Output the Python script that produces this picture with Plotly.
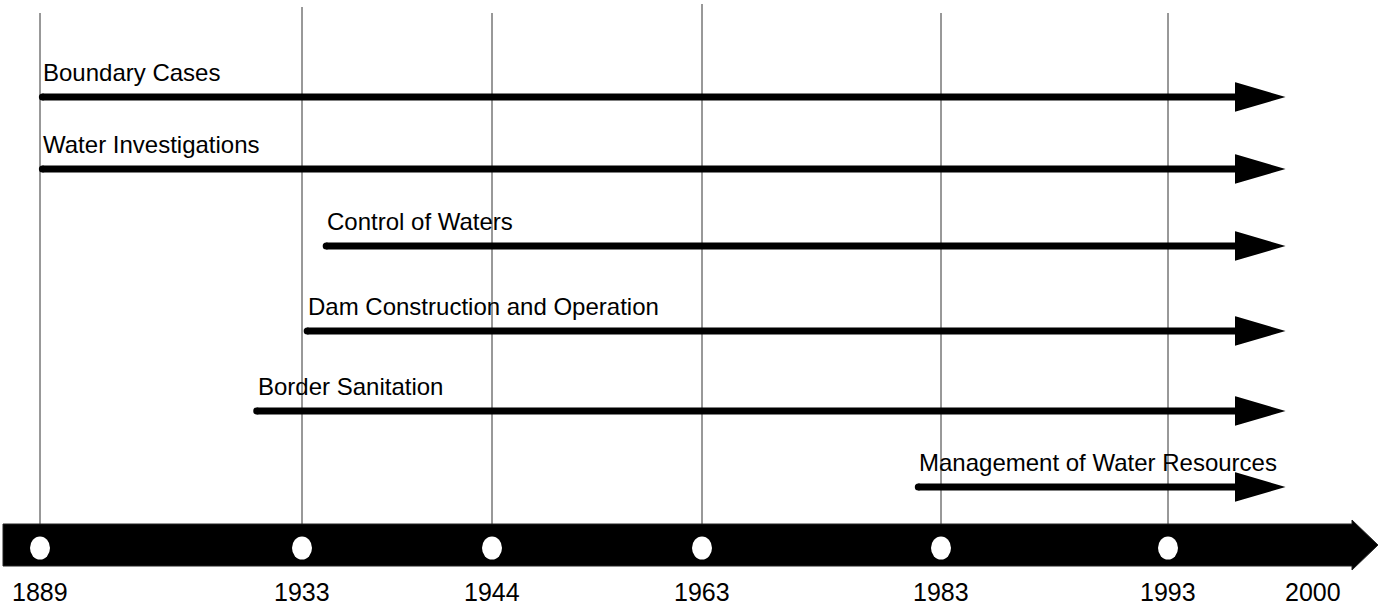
import numpy as np
import plotly.graph_objects as go

# ---------------- data ----------------
year_labels = ["1889", "1933", "1944", "1963", "1983", "1993", "2000"]
milestone_years = [1889, 1933, 1944, 1963, 1983, 1993]
program_names = [
    "Boundary Cases",
    "Water Investigations",
    "Control of Waters",
    "Dam Construction and Operation",
    "Border Sanitation",
    "Management of Water Resources",
]
program_start = [1889.4, 1889.4, 1934.4, 1933.3, 1925.4, 1981.1]
program_end = [2000, 2000, 2000, 2000, 2000, 2000]

# ---------------- layout / scale (schematic, non-linear time axis) ----------------
W, H = 1379, 610
AXIS_YEARS = [1889, 1933, 1944, 1963, 1983, 1993, 2000]
AXIS_PX = [40, 302, 492, 702, 941, 1168, 1313]
ROW_Y = [97, 169, 246, 331, 411, 487]
GUIDE_TOP = [13, 7, 13, 4, 13, 13]
BAR_Y0, BAR_Y1, BAR_X0, BAR_XH, BAR_TIP = 524, 566, 3, 1352, 1378
HEAD_HALF_BAR = 25
DOT_Y, DOT_RX, DOT_RY = 548, 10, 11.5
LINE_W = 7
HEAD_LEN, HEAD_HALF, TIP_GAP = 46, 13.5, 31
LABEL_GAP = 25
LABEL_FONT = 24
YEAR_FONT = 25
YEAR_Y = 592
FONT = "Liberation Sans, Arial, sans-serif"


def xs(year):
    return float(np.interp(year, AXIS_YEARS, AXIS_PX))


fig = go.Figure()
shapes = []
annotations = []

# vertical guide lines
for yr, top in zip(milestone_years, GUIDE_TOP):
    x = xs(yr)
    shapes.append(dict(type="line", x0=x, x1=x, y0=top, y1=DOT_Y, xref="x", yref="y",
                       line=dict(color="#333333", width=1), layer="below"))

# main timeline bar with arrow head
bar_mid = (BAR_Y0 + BAR_Y1) / 2
path = (f"M {BAR_X0},{BAR_Y0} L {BAR_XH},{BAR_Y0} L {BAR_XH},{bar_mid - HEAD_HALF_BAR} "
        f"L {BAR_TIP},{bar_mid} L {BAR_XH},{bar_mid + HEAD_HALF_BAR} L {BAR_XH},{BAR_Y1} "
        f"L {BAR_X0},{BAR_Y1} Z")
shapes.append(dict(type="path", path=path, xref="x", yref="y", fillcolor="black",
                   line=dict(color="#222", width=1)))

# milestone dots
for yr in milestone_years:
    x = xs(yr)
    shapes.append(dict(type="circle", x0=x - DOT_RX, x1=x + DOT_RX, y0=DOT_Y - DOT_RY,
                       y1=DOT_Y + DOT_RY, xref="x", yref="y", fillcolor="white",
                       line=dict(color="white", width=0)))

# year labels
for yr_lab in year_labels:
    annotations.append(dict(x=xs(int(yr_lab)), y=YEAR_Y, xref="x", yref="y", text=yr_lab,
                            showarrow=False, xanchor="center", yanchor="middle",
                            font=dict(family=FONT, size=YEAR_FONT, color="black")))

# program arrows
for name, s, e, y in zip(program_names, program_start, program_end, ROW_Y):
    x0 = xs(s)
    tip = xs(e) - TIP_GAP
    base = tip - HEAD_LEN
    shapes.append(dict(type="line", x0=x0, x1=base + 3, y0=y, y1=y, xref="x", yref="y",
                       line=dict(color="black", width=LINE_W)))
    r = LINE_W / 2
    shapes.append(dict(type="circle", x0=x0 - r, x1=x0 + r, y0=y - r, y1=y + r,
                       xref="x", yref="y", fillcolor="black", line=dict(width=0)))
    head = f"M {base},{y - HEAD_HALF} L {tip},{y} L {base},{y + HEAD_HALF} Z"
    shapes.append(dict(type="path", path=head, xref="x", yref="y", fillcolor="black",
                       line=dict(color="black", width=2)))
    annotations.append(dict(x=x0, y=y - LABEL_GAP, xref="x", yref="y", text=name,
                            showarrow=False, xanchor="left", yanchor="middle", borderpad=0,
                            font=dict(family=FONT, size=LABEL_FONT, color="black")))

fig.update_layout(
    width=W, height=H,
    margin=dict(l=0, r=0, t=0, b=0),
    paper_bgcolor="white", plot_bgcolor="white",
    xaxis=dict(range=[0, W], visible=False, fixedrange=True),
    yaxis=dict(range=[H, 0], visible=False, fixedrange=True),
    shapes=shapes, annotations=annotations, showlegend=False,
)

fig.write_html(
    "out.html",
    config={"displayModeBar": False},
    post_script="document.body.style.margin='0';document.body.style.overflow='hidden';",
)
